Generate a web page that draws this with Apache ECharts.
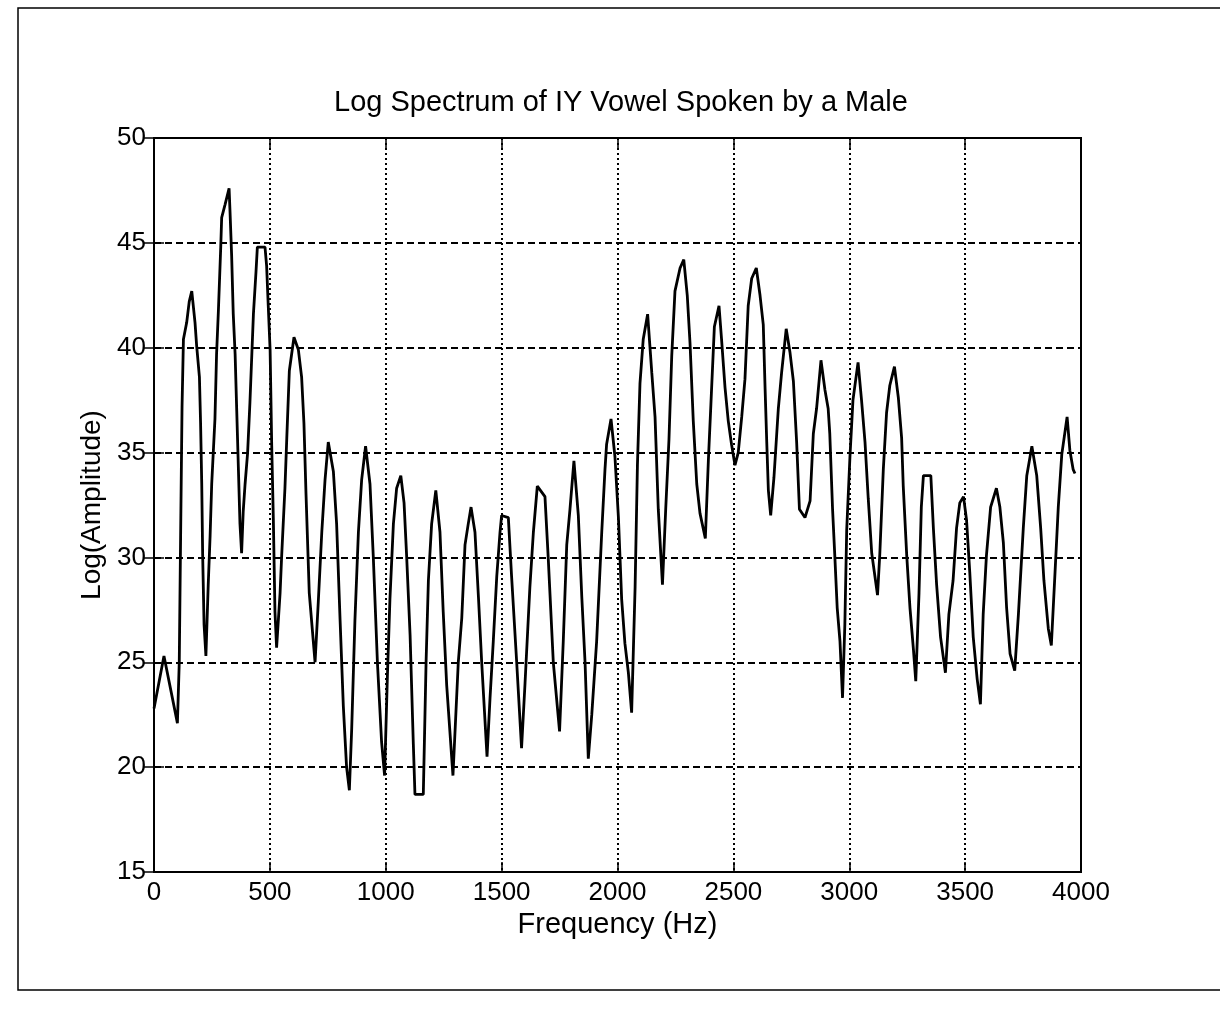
<!DOCTYPE html>
<html>
<head>
<meta charset="utf-8">
<script src="https://cdn.jsdelivr.net/npm/echarts@6/dist/echarts.min.js"></script>
<style>
html,body{margin:0;padding:0;background:#fff;}
#chart{width:1220px;height:1021px;}
</style>
</head>
<body>
<div id="chart"></div>
<script>
// Frequency (Hz) samples
const freqHz = [0,43,101,109,115,121,127,141,152,163,177,184,196,201,206,210,216,224,234,242,249,263,270,278,288,292,306,324,328,335,342,350,357,364,371,378,385,393,404,414,429,440,446,479,486,493,501,508,515,522,529,544,551,565,573,584,594,604,623,637,647,656,670,695,709,724,738,752,774,788,803,817,831,843,853,867,882,896,913,932,946,964,982,995,1007,1018,1033,1047,1065,1079,1090,1105,1119,1126,1162,1174,1184,1198,1216,1234,1248,1263,1290,1313,1328,1342,1356,1368,1385,1400,1414,1437,1450,1464,1479,1493,1500,1529,1543,1565,1586,1601,1622,1637,1654,1687,1701,1723,1750,1766,1781,1795,1812,1831,1846,1860,1874,1889,1910,1932,1946,1953,1972,1989,2004,2018,2032,2047,2061,2076,2086,2097,2111,2130,2148,2162,2176,2194,2208,2222,2234,2248,2270,2286,2301,2313,2327,2342,2356,2379,2392,2403,2418,2438,2449,2464,2478,2492,2507,2521,2536,2550,2564,2579,2599,2615,2629,2637,2644,2651,2661,2675,2694,2708,2728,2744,2759,2773,2785,2809,2831,2845,2859,2878,2895,2909,2916,2928,2938,2948,2960,2971,2981,2989,3003,3016,3038,3053,3068,3082,3097,3122,3132,3147,3161,3175,3195,3212,3226,3233,3248,3262,3277,3287,3301,3311,3320,3352,3363,3377,3394,3415,3430,3448,3463,3477,3493,3506,3520,3535,3552,3566,3578,3592,3610,3635,3650,3665,3679,3694,3714,3730,3751,3766,3788,3809,3826,3840,3859,3872,3888,3902,3917,3940,3952,3966,3974];
// Log(Amplitude) values read at those frequencies
const logAmp = [22.8,25.3,22.1,25,31.2,37.2,40.4,41.2,42.2,42.7,41.2,40.1,38.6,36.4,33.5,30.1,26.8,25.3,28.7,31,33.5,36.6,39.7,41.8,44.8,46.2,46.8,47.6,46.5,44.4,41.6,39.7,37.0,34.3,31.6,30.2,32.2,33.5,35,37.4,41.6,43.6,44.8,44.8,43.9,42,39.9,35.3,31.8,27.4,25.7,28.3,30.1,33.3,35.7,38.9,39.7,40.5,39.9,38.6,36.4,33,28.3,25.0,27.9,31.2,33.7,35.5,34.1,31.6,27.0,22.9,20,18.9,21.8,27.0,31.2,33.7,35.3,33.5,30.1,25,21.2,19.6,24.3,28,31.6,33.3,33.9,32.6,30.1,26.3,21.1,18.7,18.7,25,28.9,31.6,33.2,31.2,27.4,23.9,19.6,25,27.1,30.6,31.6,32.4,31.2,28.1,25,20.5,23.3,26,29.1,31.2,32,31.9,29.1,25,20.9,24,28.6,31.2,33.4,32.9,30,25,21.7,26,30.6,32.3,34.6,32,28.1,25,20.4,22.5,26,31.2,34.2,35.4,36.6,34.8,31.9,28,25.9,24.5,22.6,28.6,34.4,38.3,40.4,41.6,38.8,36.7,32.3,28.7,32.3,35.6,39.6,42.7,43.8,44.2,42.5,40.2,36.5,33.5,32.1,30.9,34.6,37.3,41,42,40.4,38.1,36.5,35.4,34.4,35,36.7,38.5,42,43.3,43.8,42.5,41.1,38,35.5,33.2,32,33.8,37.1,38.8,40.9,39.8,38.4,35.5,32.3,31.9,32.7,35.9,37.1,39.4,38,37.1,35.9,32.3,30,27.6,26,23.3,26.8,31.3,34.8,37.5,39.3,37.5,35.5,32.8,30.2,28.2,30.2,34.2,36.9,38.2,39.1,37.6,35.7,33.4,30.1,27.6,25.6,24.1,28.3,32.4,33.9,33.9,31.4,28.7,26.2,24.5,27.3,28.9,31.4,32.6,32.9,31.8,29.3,26.2,24.2,23.0,27.3,30.1,32.4,33.3,32.4,30.7,27.6,25.4,24.6,27.3,31.4,33.9,35.3,33.9,31.4,28.9,26.6,25.8,29.3,32.4,34.9,36.7,35.1,34.2,34.0];
const xTicks = [0,500,1000,1500,2000,2500,3000,3500,4000];
const yTicks = [15,20,25,30,35,40,45,50];
const titleText = 'Log Spectrum of IY Vowel Spoken by a Male';
const xName = 'Frequency (Hz)';
const yName = 'Log(Amplitude)';

const seriesData = freqHz.map((f, i) => [f, logAmp[i]]);
const FONT = '"Liberation Sans", Arial, Helvetica, sans-serif';

const chart = echarts.init(document.getElementById('chart'), null, {renderer: 'canvas'});
const tickStyle = {show: true, inside: true, length: 10, lineStyle: {color: '#000', width: 1.5}};
chart.setOption({
  animation: false,
  backgroundColor: '#fff',
  title: {
    text: titleText,
    left: 616,
    top: 83,
    textAlign: 'center',
    textStyle: {fontFamily: FONT, fontSize: 29, fontWeight: 'normal', color: '#000'}
  },
  grid: {left: 154, top: 138, width: 927, height: 734, containLabel: false, outerBoundsMode: 'none',
         show: true, borderColor: '#000', borderWidth: 2},
  xAxis: [{
    type: 'value', min: xTicks[0], max: xTicks[xTicks.length - 1], interval: 500,
    position: 'bottom',
    name: xName, nameLocation: 'middle', nameGap: 38,
    nameTextStyle: {fontFamily: FONT, fontSize: 29, color: '#000'},
    axisLine: {show: true, lineStyle: {color: '#000', width: 2}},
    axisTick: tickStyle,
    axisLabel: {show: true, margin: 8, fontFamily: FONT, fontSize: 26, color: '#000',
                showMinLabel: true, showMaxLabel: true, formatter: v => String(v)},
    splitLine: {show: true, lineStyle: {color: '#000', width: 2, type: [2, 3]}}
  }, {
    type: 'value', min: xTicks[0], max: xTicks[xTicks.length - 1], interval: 500,
    position: 'top',
    axisLine: {show: true, lineStyle: {color: '#000', width: 2}},
    axisTick: tickStyle, axisLabel: {show: false}, splitLine: {show: false}
  }],
  yAxis: [{
    type: 'value', min: yTicks[0], max: yTicks[yTicks.length - 1], interval: 5,
    position: 'left',
    name: yName, nameLocation: 'middle', nameGap: 46, nameRotate: 90,
    nameTextStyle: {fontFamily: FONT, fontSize: 28, color: '#000'},
    axisLine: {show: true, lineStyle: {color: '#000', width: 2}},
    axisTick: tickStyle,
    axisLabel: {show: true, margin: 8, fontFamily: FONT, fontSize: 26, color: '#000',
                showMinLabel: true, showMaxLabel: true, formatter: v => String(v)},
    splitLine: {show: true, lineStyle: {color: '#000', width: 2, type: [7, 4]}}
  }, {
    type: 'value', min: yTicks[0], max: yTicks[yTicks.length - 1], interval: 5,
    position: 'right',
    axisLine: {show: true, lineStyle: {color: '#000', width: 2}},
    axisTick: tickStyle, axisLabel: {show: false}, splitLine: {show: false}
  }],
  graphic: [{
    type: 'rect', silent: true,
    shape: {x: 18, y: 8, width: 1230, height: 982},
    style: {fill: 'none', stroke: '#000', lineWidth: 1.5}
  }],
  series: [{
    type: 'line',
    data: seriesData,
    showSymbol: false,
    symbol: 'none',
    clip: true,
    lineStyle: {color: '#000', width: 2.8},
    z: 5
  }]
});
</script>
</body>
</html>
